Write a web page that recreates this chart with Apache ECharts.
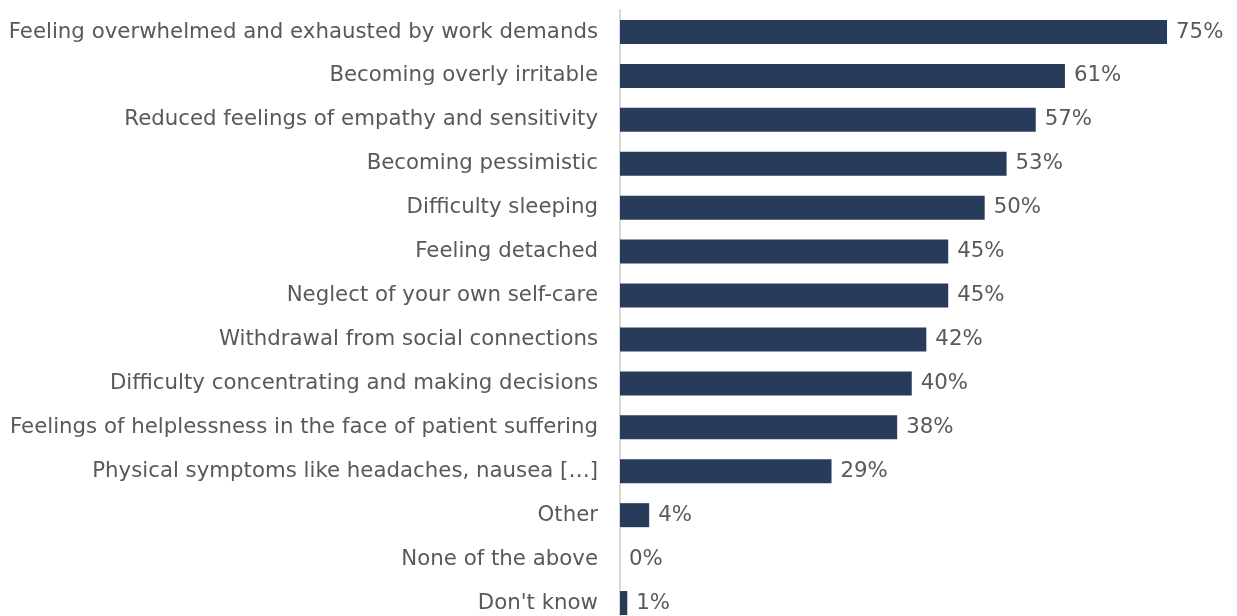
<!DOCTYPE html>
<html>
<head>
<meta charset="utf-8">
<script src="https://cdn.jsdelivr.net/npm/echarts@6/dist/echarts.min.js"></script>
<style>
  html, body { margin: 0; padding: 0; background: #fff; overflow: hidden; }
  #chart { width: 1237px; height: 630px; }
</style>
</head>
<body>
<div id="chart"></div>
<script>
// Burnout symptoms reported, share of respondents (%)
const categories = [
  "Feeling overwhelmed and exhausted by work demands",
  "Becoming overly irritable",
  "Reduced feelings of empathy and sensitivity",
  "Becoming pessimistic",
  "Difficulty sleeping",
  "Feeling detached",
  "Neglect of your own self-care",
  "Withdrawal from social connections",
  "Difficulty concentrating and making decisions",
  "Feelings of helplessness in the face of patient suffering",
  "Physical symptoms like headaches, nausea […]",
  "Other",
  "None of the above",
  "Don't know"
];
const values = [75, 61, 57, 53, 50, 45, 45, 42, 40, 38, 29, 4, 0, 1];

const chart = echarts.init(document.getElementById('chart'));
chart.setOption({
  animation: false,
  grid: { left: 620, top: 10, width: 583.5, height: 615, containLabel: false },
  xAxis: {
    type: 'value', min: 0, max: 80,
    show: false
  },
  yAxis: {
    type: 'category',
    data: categories,
    inverse: true,
    axisLine: { show: true, lineStyle: { color: '#d9d9d9', width: 2 } },
    axisTick: { show: false },
    axisLabel: {
      color: '#595959',
      fontFamily: 'DejaVu Sans',
      fontSize: 21.3,
      margin: 22
    }
  },
  series: [{
    type: 'bar',
    data: values,
    barWidth: 24,
    itemStyle: { color: '#283b5b' },
    label: {
      show: true,
      position: 'right',
      distance: 9,
      formatter: p => p.value + '%',
      color: '#595959',
      fontFamily: 'DejaVu Sans',
      fontSize: 21.3
    }
  }]
});
</script>
</body>
</html>
